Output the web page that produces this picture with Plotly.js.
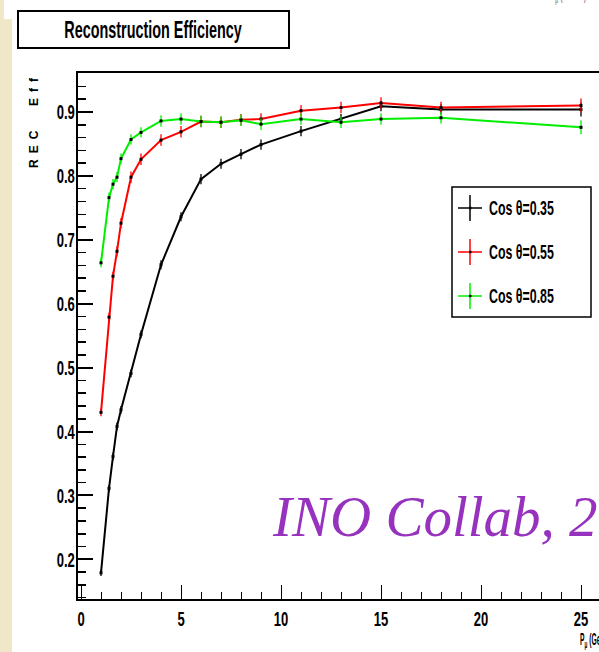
<!DOCTYPE html>
<html>
<head>
<meta charset="utf-8">
<script src="https://cdn.plot.ly/plotly-3.0.1.min.js"></script>
<style>
  html, body { margin: 0; padding: 0; background: #ffffff; overflow: hidden; }
  #plot { width: 661px; height: 652px; }
</style>
</head>
<body>
<div id="plot"></div>
<script>
// Muon momentum (GeV/c) at which the efficiency was evaluated
const pmu = [1, 1.4, 1.6, 1.8, 2, 2.5, 3, 4, 5, 6, 7, 8, 9, 11, 13, 15, 18, 25];

// Reconstruction efficiency for each zenith-angle bin
const effCos035 = [0.179, 0.311, 0.361, 0.408, 0.434, 0.491, 0.552, 0.661, 0.736, 0.795, 0.819, 0.834, 0.849, 0.870, 0.889, 0.909, 0.904, 0.904];
const effCos055 = [0.430, 0.579, 0.643, 0.682, 0.726, 0.798, 0.826, 0.856, 0.869, 0.885, 0.884, 0.888, 0.889, 0.902, 0.907, 0.914, 0.907, 0.910];
const effCos085 = [0.664, 0.766, 0.787, 0.798, 0.827, 0.857, 0.868, 0.886, 0.889, 0.885, 0.884, 0.887, 0.881, 0.889, 0.884, 0.889, 0.891, 0.876];

// Statistical uncertainties
const errCos035 = [0.005, 0.005, 0.006, 0.006, 0.006, 0.006, 0.006, 0.007, 0.007, 0.008, 0.008, 0.008, 0.008, 0.008, 0.008, 0.008, 0.008, 0.011];
const errCos055 = [0.006, 0.007, 0.007, 0.008, 0.008, 0.009, 0.009, 0.009, 0.009, 0.009, 0.009, 0.009, 0.009, 0.009, 0.009, 0.009, 0.009, 0.011];
const errCos085 = [0.007, 0.008, 0.008, 0.008, 0.008, 0.008, 0.008, 0.009, 0.009, 0.009, 0.009, 0.009, 0.009, 0.009, 0.009, 0.009, 0.009, 0.011];

const seriesNames = ['Cos \u03b8=0.35', 'Cos \u03b8=0.55', 'Cos \u03b8=0.85'];
const seriesColors = ['#000000', '#ff0000', '#00ee00'];

const chartTitle = 'Reconstruction Efficiency';
const yTitle = 'REC\u00a0\u00a0Eff';
const xTitle = 'P<sub>\u03bc</sub> (GeV/c)';
const stamp = 'INO Collab, 2';

// Page geometry
const W = 661, H = 652, ML = 78, MR = 20, MT = 73, MB = 53;
const PW = W - ML - MR, PH = H - MT - MB;
const px = v => (v - ML) / PW;          // page x pixel -> paper x
const py = v => (MT + PH - v) / PH;     // page y pixel -> paper y

const FONT = "'Liberation Sans', Arial, sans-serif";
const NARROW = 0.62;                     // horizontal squeeze for the condensed sans labels

const yData = [effCos035, effCos055, effCos085];
const eData = [errCos035, errCos055, errCos085];

const traces = yData.map((ys, i) => ({
  type: 'scatter',
  mode: 'lines+markers',
  name: seriesNames[i],
  x: pmu,
  y: ys,
  error_y: { type: 'data', array: eData[i], color: seriesColors[i], thickness: 1.3, width: 0 },
  line: { color: seriesColors[i], width: 2 },
  marker: { color: '#000000', size: 3, symbol: 'square' },
  showlegend: false,
  hoverinfo: 'x+y'
}));

const shapes = [
  // left margin strip
  { type: 'rect', xref: 'paper', yref: 'paper', x0: px(0), x1: px(4), y0: py(0), y1: py(19),
    fillcolor: '#efe7c7', line: { width: 0 } },
  { type: 'rect', xref: 'paper', yref: 'paper', x0: px(0), x1: px(12), y0: py(19), y1: py(H),
    fillcolor: '#efe7c7', line: { width: 0 } },
  // title box
  { type: 'rect', xref: 'paper', yref: 'paper', x0: px(18), x1: px(289), y0: py(11), y1: py(48),
    fillcolor: '#ffffff', line: { color: '#000000', width: 2 } },
  // legend box
  { type: 'rect', xref: 'paper', yref: 'paper', x0: px(452), x1: px(591), y0: py(187), y1: py(317),
    fillcolor: '#ffffff', line: { color: '#000000', width: 1.5 } }
];

// Each note carries a squeeze factor (horizontal condensing) or a letter-spacing flag
const annotations = [];
const squeeze = [];
function addNote(opts, mode) {
  annotations.push(Object.assign({ xref: 'paper', yref: 'paper', showarrow: false }, opts));
  squeeze.push(mode === undefined ? null : mode);
}

addNote({ x: px(153.5), y: py(29.5), xanchor: 'center', yanchor: 'middle', text: chartTitle,
  font: { family: FONT, size: 24, color: '#000000', weight: 'bold' } }, 0.6);
addNote({ x: px(34), y: py(119), xanchor: 'center', yanchor: 'middle', text: yTitle, textangle: -90,
  font: { family: FONT, size: 12, color: '#000000', weight: 'bold' } }, 'spaced');
addNote({ x: px(578), y: py(640), xanchor: 'left', yanchor: 'middle', align: 'left', text: xTitle,
  font: { family: FONT, size: 16, color: '#000000', weight: 'bold' } }, 0.42);
addNote({ x: px(548), y: py(7), xanchor: 'left', yanchor: 'bottom', align: 'left', text: xTitle,
  font: { family: FONT, size: 12, color: '#9a9a9a', weight: 'bold' } }, NARROW);
addNote({ x: px(270), y: py(516), xanchor: 'left', yanchor: 'middle', text: '<i>' + stamp + '</i>',
  font: { family: "'Liberation Serif', 'DejaVu Serif', serif", size: 57, color: '#9632be' } }, null);

// Legend entries
const legendRows = [208, 252, 296];
seriesNames.forEach((name, i) => {
  const cy = legendRows[i];
  shapes.push(
    { type: 'line', xref: 'paper', yref: 'paper', x0: px(458), x1: px(482), y0: py(cy), y1: py(cy),
      line: { color: seriesColors[i], width: 1.5 } },
    { type: 'line', xref: 'paper', yref: 'paper', x0: px(470), x1: px(470), y0: py(cy - 13), y1: py(cy + 13),
      line: { color: seriesColors[i], width: 1.5 } },
    { type: 'rect', xref: 'paper', yref: 'paper', x0: px(469), x1: px(471.5), y0: py(cy - 1.2), y1: py(cy + 1.2),
      fillcolor: '#000000', line: { width: 0 } }
  );
  addNote({ x: px(487), y: py(cy), xanchor: 'left', yanchor: 'middle', align: 'left', text: name,
    font: { family: FONT, size: 20, color: '#000000', weight: 'bold' } }, NARROW);
});

const layout = {
  width: W, height: H,
  margin: { l: ML, r: MR, t: MT, b: MB, pad: 0 },
  paper_bgcolor: '#ffffff',
  plot_bgcolor: '#ffffff',
  showlegend: false,
  xaxis: {
    range: [-0.15, 28],
    tick0: 0, dtick: 5,
    ticks: 'inside', ticklen: 14, tickwidth: 1, tickcolor: '#000000',
    showline: true, linewidth: 2, linecolor: '#000000', mirror: true,
    showgrid: false, zeroline: false,
    tickfont: { family: FONT, size: 21, color: '#000000', weight: 'bold' },
    ticklabelstandoff: 0,
    minor: { dtick: 1, ticks: 'inside', ticklen: 7, tickwidth: 1, tickcolor: '#000000', showgrid: false }
  },
  yaxis: {
    range: [0.138, 0.961],
    tick0: 0, dtick: 0.1, tickformat: '.1f',
    ticks: 'inside', ticklen: 15, tickwidth: 2, tickcolor: '#000000',
    showline: true, linewidth: 2, linecolor: '#000000', mirror: true,
    showgrid: false, zeroline: false,
    tickfont: { family: FONT, size: 21, color: '#000000', weight: 'bold' },
    ticklabelstandoff: -3,
    minor: { dtick: 0.02, ticks: 'inside', ticklen: 8, tickwidth: 1.5, tickcolor: '#000000', showgrid: false }
  },
  shapes: shapes,
  annotations: annotations
};

// Compress a text element horizontally about its own x anchor
function condense(t, s) {
  const x = parseFloat(t.getAttribute('x')) || 0;
  const tr = t.getAttribute('transform') || '';
  t.setAttribute('transform', `${tr} translate(${x},0) scale(${s},1) translate(${-x},0)`);
}

Plotly.newPlot('plot', traces, layout, { displayModeBar: false, staticPlot: true }).then(gd => {
  gd.querySelectorAll('.xtick text, .ytick text').forEach(t => condense(t, NARROW));
  gd.querySelectorAll('g.annotation').forEach(g => {
    const idx = +g.getAttribute('data-index');
    const t = g.querySelector('text.annotation-text');
    if (!t) return;
    const mode = squeeze[idx];
    if (typeof mode === 'number') condense(t, mode);
    else if (mode === 'spaced') t.setAttribute('letter-spacing', '6px');
  });
});
</script>
</body>
</html>
